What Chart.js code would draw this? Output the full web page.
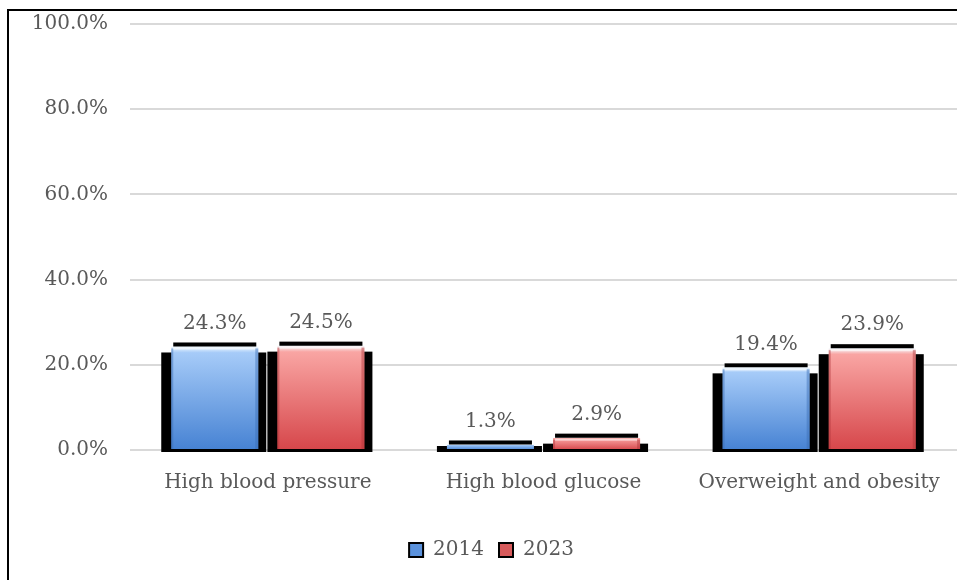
<!DOCTYPE html>
<html>
<head>
<meta charset="utf-8">
<script src="https://cdn.jsdelivr.net/npm/chart.js@4/dist/chart.umd.min.js"></script>
<style>
    body { margin: 0; background: #fff; }
    #wrap { position: relative; width: 957px; height: 580px; overflow: hidden; }
    #frame { position: absolute; left: 7px; top: 9px; width: 2000px; height: 2000px;
             border-left: 2px solid #000; border-top: 2px solid #000; }
    canvas { position: absolute; left: 0; top: 0; }
</style>
</head>
<body>
<div id="wrap">
    <div id="frame"></div>
    <canvas id="chart" width="957" height="580"></canvas>
</div>
<script>
const categories = ['High blood pressure', 'High blood glucose', 'Overweight and obesity'];
const years = ['2014', '2023'];
const values2014 = [24.3, 1.3, 19.4];
const values2023 = [24.5, 2.9, 23.9];
const yTicks = [0, 20, 40, 60, 80, 100];

const FONT = "'DejaVu Serif', serif";
const TEXT = '#595959';

// colours: [top, bottom, legend, edge]
const palette = {
    '2014': ['#a6cbf8', '#4682d3', '#5b92dc', '#3a6db4'],
    '2023': ['#f9a5a3', '#d6464a', '#d85b5c', '#ad3438']
};

function barGradient(ctx, key) {
    const chart = ctx.chart;
    if (ctx.type !== 'data' || !chart.scales.y) return palette[key][2];
    const y = chart.scales.y;
    const top = y.getPixelForValue(ctx.raw);
    const base = y.getPixelForValue(0);
    const g = chart.ctx.createLinearGradient(0, top, 0, Math.max(base, top + 1));
    g.addColorStop(0, '#f4fbff');
    g.addColorStop(0.06, palette[key][0]);
    g.addColorStop(1, palette[key][1]);
    return g;
}

// black blurred "shadow" behind each bar, like the Excel bevel effect
const shadowPlugin = {
    id: 'shadow',
    beforeDatasetDraw(chart, args) {
        const ctx = chart.ctx;
        ctx.save();
        ctx.fillStyle = '#000';
        args.meta.data.forEach(bar => {
            const p = bar.getProps(['x', 'y', 'width', 'base'], true);
            const l = p.x - p.width / 2;
            ctx.fillRect(l + 2, p.y - 4, p.width - 4, 6);
            const wideTop = Math.min(p.y + 6, p.base - 3);
            ctx.fillRect(l - 10, wideTop, p.width + 18, p.base + 3 - wideTop);
        });
        ctx.restore();
    },
    // darker bevel edges on the sides of each bar
    afterDatasetDraw(chart, args) {
        const ctx = chart.ctx;
        const key = chart.data.datasets[args.index].label;
        ctx.save();
        args.meta.data.forEach(bar => {
            const p = bar.getProps(['x', 'y', 'width', 'base'], true);
            const l = p.x - p.width / 2, r = p.x + p.width / 2;
            const h = p.base - p.y;
            if (h < 8) return;
            ctx.globalAlpha = 0.45;
            ctx.fillStyle = palette[key][3];
            ctx.fillRect(l, p.y + 2, 2, h - 2);
            ctx.fillRect(r - 3, p.y + 2, 3, h - 2);
            ctx.globalAlpha = 0.6;
            ctx.fillStyle = '#ffffff';
            ctx.fillRect(l + 2, p.y + 1, p.width - 5, 2);
        });
        ctx.restore();
    }
};

// value labels above the bars
const labelPlugin = {
    id: 'valueLabels',
    afterDatasetsDraw(chart) {
        const ctx = chart.ctx;
        ctx.save();
        ctx.font = '20px ' + FONT;
        ctx.fillStyle = TEXT;
        ctx.textAlign = 'center';
        ctx.textBaseline = 'middle';
        chart.data.datasets.forEach((ds, i) => {
            chart.getDatasetMeta(i).data.forEach((bar, j) => {
                ctx.fillText(ds.data[j].toFixed(1) + '%', bar.x, bar.y - 23);
            });
        });
        ctx.restore();
    }
};

// nudge the legend a little to the right, as in the original
const legendShift = {
    id: 'legendShift',
    afterLayout(chart) {
        chart.legend.left += 13;
        chart.legend.right += 13;
    }
};

new Chart(document.getElementById('chart'), {
    type: 'bar',
    data: {
        labels: categories,
        datasets: [
            { label: years[0], data: values2014, backgroundColor: c => barGradient(c, '2014'), borderWidth: 0 },
            { label: years[1], data: values2023, backgroundColor: c => barGradient(c, '2023'), borderWidth: 0 }
        ]
    },
    options: {
        responsive: false,
        animation: false,
        layout: { padding: { left: 0, right: 0, top: 24, bottom: 10 } },
        datasets: { bar: { categoryPercentage: 0.77, barPercentage: 0.82 } },
        plugins: {
            legend: {
                position: 'bottom',
                labels: {
                    font: { family: FONT, size: 20 },
                    color: TEXT,
                    boxWidth: 14,
                    boxHeight: 14,
                    padding: 15,
                    generateLabels: chart => chart.data.datasets.map((ds, i) => ({
                        text: ds.label,
                        fillStyle: palette[ds.label][2],
                        strokeStyle: '#000',
                        lineWidth: 2,
                        fontColor: TEXT,
                        datasetIndex: i
                    }))
                }
            },
            tooltip: { enabled: false }
        },
        scales: {
            x: {
                grid: { display: false },
                border: { display: false },
                afterFit: s => { s.height += 17; },
                ticks: { font: { family: FONT, size: 20 }, color: TEXT, padding: 13 }
            },
            y: {
                min: 0, max: 100,
                afterBuildTicks: s => { s.ticks = yTicks.map(v => ({ value: v })); },
                afterFit: s => { s.width = 130; s.paddingTop = 0; s.paddingBottom = 0; },
                grid: { color: '#d9d9d9', lineWidth: 2, drawTicks: false },
                border: { display: false },
                ticks: {
                    font: { family: FONT, size: 20 }, color: TEXT, padding: 22,
                    callback: v => v.toFixed(1) + '%'
                }
            }
        }
    },
    plugins: [shadowPlugin, labelPlugin, legendShift]
});
</script>
</body>
</html>
